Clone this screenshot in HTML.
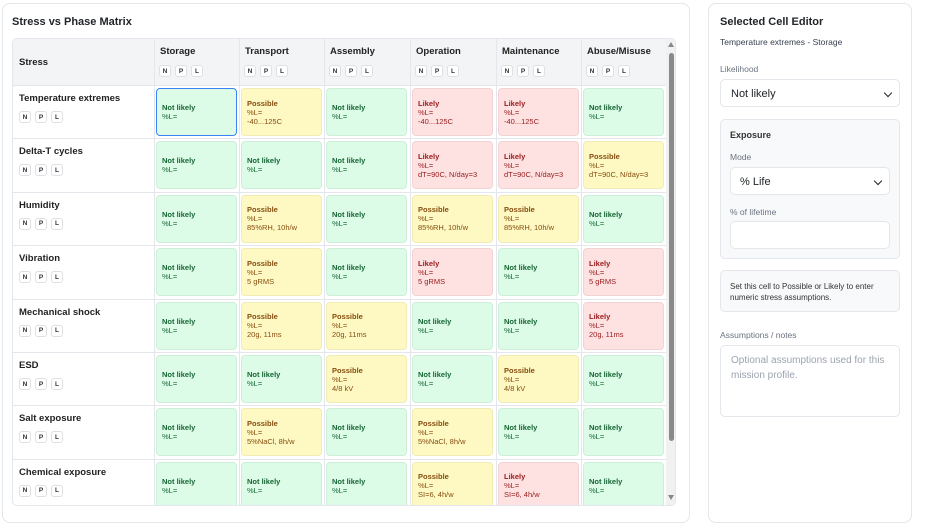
<!DOCTYPE html>
<html><head><style>
*{box-sizing:border-box;margin:0;padding:0}
body{width:927px;height:510px;overflow:hidden;background:#fff;font-family:"Liberation Sans",sans-serif;color:#212529;position:relative}
.panel{position:absolute;border:1px solid #e3e6ea;border-radius:8px;background:#fff}
.h{font-weight:bold;font-size:11px;position:absolute}
.tbl{position:absolute;left:12px;top:38px;width:664px;height:468px;border:1px solid #e3e6ea;border-radius:5px;overflow:hidden}
.hdr{position:absolute;left:0;top:0;width:653px;height:47px;background:#f3f4f6;border-bottom:1px solid #e3e6ea}
.col{position:absolute;top:0;height:100%;border-left:1px solid #e3e6ea}
.ch{position:absolute;font-size:9.5px;font-weight:bold;color:#222}
.btns{position:absolute;display:flex;gap:4px}
.btns span{width:12px;height:12px;border:1px solid #dde0e4;border-radius:3px;background:#fff;font-size:6.5px;font-weight:bold;display:flex;align-items:center;justify-content:center;color:#333}
.row{position:absolute;left:0;width:653px;height:53.4px;border-bottom:1px solid #e3e6ea}
.cell{position:absolute;top:2px;height:48px;width:81px;border-radius:4px;font-size:7.5px;line-height:9px;padding:0 5px;display:flex;flex-direction:column;justify-content:center;border:1px solid transparent}
.g{background:#dcfce7;color:#166534;border-color:#cdeed9}
.y{background:#fef9c3;color:#854d0e;border-color:#f1ebb5}
.r{background:#fee2e2;color:#991b1b;border-color:#f2d2d2}
.sel{border:1.5px solid #3b82f6}
.lbl{position:absolute;font-size:8.5px;color:#6b7280}
.box{position:absolute;border:1px solid #e3e6ea;border-radius:5px;background:#fff}
.sb{position:absolute;left:653px;top:0;width:11px;height:468px;background:#f1f1f1}
.arr{position:absolute;right:8px;top:10px;width:6px;height:6px;border-right:1.6px solid #222;border-bottom:1.6px solid #222;transform:rotate(45deg)}
</style></head><body>
<div class="panel" style="left:2px;top:3px;width:688px;height:520px"></div>
<div class="h" style="left:12px;top:16px">Stress vs Phase Matrix</div>
<div class="tbl">
<div class="hdr"></div>
<div class="ch" style="left:6px;top:18px">Stress</div>
<div id="cols"></div>
<div class="sb"><div style="position:absolute;left:3px;top:14px;width:5px;height:388px;background:#8a8a8a;border-radius:3px"></div>
<div style="position:absolute;left:2px;top:3px;width:0;height:0;border-left:3.5px solid transparent;border-right:3.5px solid transparent;border-bottom:5px solid #888"></div>
<div style="position:absolute;left:2px;top:456px;width:0;height:0;border-left:3.5px solid transparent;border-right:3.5px solid transparent;border-top:5px solid #888"></div></div>
</div>
<div class="panel" style="left:708px;top:3px;width:204px;height:520px"></div>
<div class="h" style="left:720px;top:16px">Selected Cell Editor</div>
<div style="position:absolute;left:720px;top:37px;font-size:8.5px;color:#374151">Temperature extremes - Storage</div>
<div class="lbl" style="left:720px;top:64px">Likelihood</div>
<div class="box" style="left:720px;top:79px;width:180px;height:28px;font-size:11px;padding:8px 10px">Not likely<span class="arr"></span></div>
<div class="box" style="left:720px;top:119px;width:180px;height:140px;background:#f8f9fa"></div>
<div style="position:absolute;left:730px;top:130px;font-size:9px;font-weight:bold;color:#333">Exposure</div>
<div class="lbl" style="left:730px;top:152px">Mode</div>
<div class="box" style="left:730px;top:167px;width:160px;height:28px;font-size:11px;padding:8px 9px">% Life<span class="arr"></span></div>
<div class="lbl" style="left:730px;top:207px">% of lifetime</div>
<div class="box" style="left:730px;top:221px;width:160px;height:28px"></div>
<div class="box" style="left:720px;top:270px;width:180px;height:42px;background:#f8f9fa;font-size:8px;line-height:11px;padding:10px 9px;color:#333">Set this cell to Possible or Likely to enter numeric stress assumptions.</div>
<div class="lbl" style="left:720px;top:330px">Assumptions / notes</div>
<div class="box" style="left:720px;top:345px;width:180px;height:72px;font-size:10px;line-height:15px;padding:7px 10px;color:#9ca3af">Optional assumptions used for this mission profile.</div>
<script>
const cols=[[141,"Storage"],[226,"Transport"],[311,"Assembly"],[397,"Operation"],[483,"Maintenance"],[568,"Abuse/Misuse"]];
const rows=[["Temperature extremes",["g","y-40...125C","g","r-40...125C","r-40...125C","g"]],
["Delta-T cycles",["g","g","g","rdT=90C, N/day=3","rdT=90C, N/day=3","ydT=90C, N/day=3"]],
["Humidity",["g","y85%RH, 10h/w","g","y85%RH, 10h/w","y85%RH, 10h/w","g"]],
["Vibration",["g","y5 gRMS","g","r5 gRMS","g","r5 gRMS"]],
["Mechanical shock",["g","y20g, 11ms","y20g, 11ms","g","g","r20g, 11ms"]],
["ESD",["g","g","y4/8 kV","g","y4/8 kV","g"]],
["Salt exposure",["g","y5%NaCl, 8h/w","g","y5%NaCl, 8h/w","g","g"]],
["Chemical exposure",["g","g","g","ySI=6, 4h/w","rSI=6, 4h/w","g"]]];
const B='<span>N</span><span>P</span><span>L</span>';
const nm={g:"Not likely",y:"Possible",r:"Likely"};
let h='';
cols.forEach(c=>{h+=`<div class="col" style="left:${c[0]}px"></div><div class="ch" style="left:${c[0]+6}px;top:7px">${c[1]}</div><div class="btns" style="left:${c[0]+5}px;top:26px">${B}</div>`});
rows.forEach((r,i)=>{const t=47+i*53.4;h+=`<div class="row" style="top:${t}px"><div class="ch" style="left:6px;top:7px">${r[0]}</div><div class="btns" style="left:6px;top:25px">${B}</div>`;
r[1].forEach((c,j)=>{const k=c[0],v=c.slice(1);h+=`<div class="cell ${k}${i==0&&j==0?' sel':''}" style="left:${cols[j][0]+2}px"><div style="font-weight:bold">${nm[k]}</div><div>%L=</div>${v?'<div>'+v+'</div>':''}</div>`});h+='</div>'});
document.getElementById('cols').innerHTML=h;
</script>
</body></html>
